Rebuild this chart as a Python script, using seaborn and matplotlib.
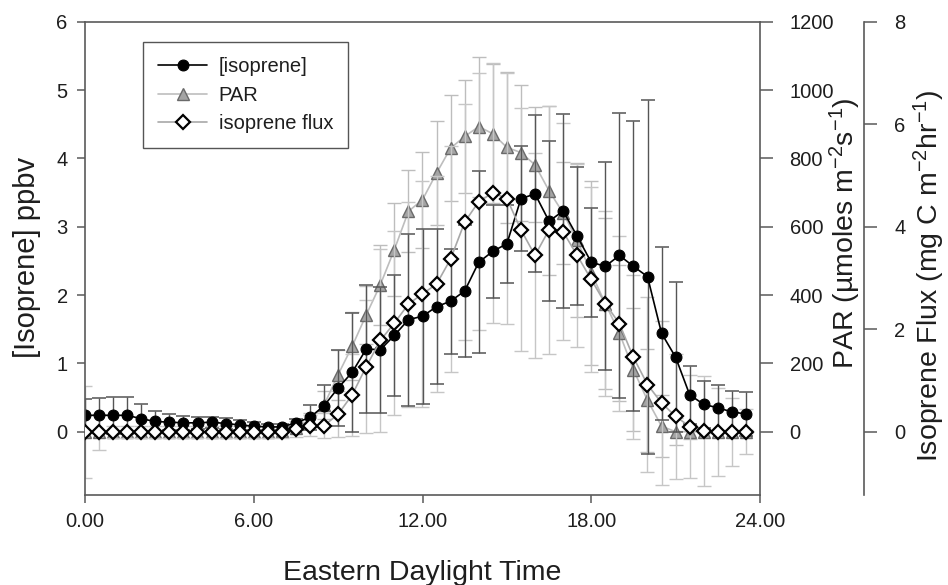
import numpy as np
import pandas as pd
import matplotlib
matplotlib.use("Agg")
import matplotlib.pyplot as plt
import seaborn as sns

# ---------------- data ----------------
time = [0.0, 0.5, 1.0, 1.5, 2.0, 2.5, 3.0, 3.5, 4.0, 4.5, 5.0, 5.5,
        6.0, 6.5, 7.0, 7.5, 8.0, 8.5, 9.0, 9.5, 10.0, 10.5, 11.0, 11.5,
        12.0, 12.5, 13.0, 13.5, 14.0, 14.5, 15.0, 15.5, 16.0, 16.5, 17.0, 17.5,
        18.0, 18.5, 19.0, 19.5, 20.0, 20.5, 21.0, 21.5, 22.0, 22.5, 23.0, 23.5]

isoprene = [0.24, 0.24, 0.24, 0.24, 0.19, 0.15, 0.14, 0.13, 0.13, 0.14, 0.12, 0.10,
            0.08, 0.07, 0.07, 0.13, 0.21, 0.38, 0.64, 0.87, 1.21, 1.20, 1.41, 1.64,
            1.69, 1.83, 1.91, 2.06, 2.48, 2.64, 2.75, 3.41, 3.48, 3.08, 3.23, 2.86,
            2.48, 2.42, 2.58, 2.42, 2.27, 1.44, 1.09, 0.54, 0.40, 0.35, 0.29, 0.26]
isoprene_err = [0.24, 0.25, 0.27, 0.27, 0.21, 0.15, 0.12, 0.10, 0.09, 0.08, 0.08, 0.07,
                0.06, 0.05, 0.05, 0.06, 0.18, 0.30, 0.56, 0.87, 0.93, 0.92, 0.88, 1.26,
                1.28, 1.13, 0.77, 0.97, 1.33, 0.68, 0.57, 0.77, 1.15, 1.17, 1.42, 1.01,
                0.80, 1.52, 2.09, 2.12, 2.59, 1.27, 1.10, 0.42, 0.34, 0.34, 0.30, 0.32]

par = [0, 0, 0, 0, 0, 0, 0, 0, 0, 0, 0, 0,
       0, 0, 3, 12, 35, 78, 167, 250, 342, 430, 533, 645,
       679, 757, 830, 864, 893, 872, 832, 817, 781, 705, 640, 560,
       465, 375, 289, 181, 92, 16, 0, 0, 0, 0, 0, 0]
par_err = [3, 3, 3, 3, 3, 3, 3, 3, 3, 3, 3, 3,
           3, 3, 4, 8, 20, 40, 73, 99, 85, 117, 136, 120,
           140, 151, 156, 166, 205, 204, 220, 199, 168, 247, 150, 225,
           270, 250, 200, 180, 150, 90, 40, 20, 5, 5, 5, 5]

flux = [0, 0, 0, 0, 0, 0, 0, 0, 0, 0, 0, 0,
        0, 0, 0, 0.05, 0.12, 0.12, 0.34, 0.72, 1.27, 1.78, 2.12, 2.49,
        2.69, 2.88, 3.37, 4.09, 4.49, 4.66, 4.55, 3.94, 3.44, 3.94, 3.90, 3.44,
        2.97, 2.50, 2.11, 1.45, 0.92, 0.56, 0.30, 0.10, 0.02, 0, 0, 0]
flux_err = [0.90, 0.35, 0.12, 0.12, 0.12, 0.12, 0.12, 0.12, 0.12, 0.12, 0.12, 0.12,
            0.12, 0.12, 0.12, 0.15, 0.20, 0.25, 0.45, 0.80, 1.30, 1.78, 1.80, 2.00,
            2.20, 2.10, 2.20, 2.30, 2.50, 2.53, 2.45, 2.37, 2.00, 2.42, 2.12, 1.79,
            1.80, 1.80, 1.70, 1.60, 1.70, 1.60, 1.22, 1.00, 1.07, 0.86, 0.66, 0.44]

x_ticks = [0, 6, 12, 18, 24]
x_tick_labels = ["0.00", "6.00", "12.00", "18.00", "24.00"]
iso_ticks = [0, 1, 2, 3, 4, 5, 6]
par_ticks = [0, 200, 400, 600, 800, 1000, 1200]
flux_ticks = [0, 2, 4, 6, 8]
legend_labels = ["[isoprene]", "PAR", "isoprene flux"]

df = pd.DataFrame({"time": time, "isoprene": isoprene, "par": par, "flux": flux})

# ---------------- style ----------------
sns.set_style("ticks")
plt.rcParams["font.family"] = ["Liberation Sans", "DejaVu Sans"]
plt.rcParams["mathtext.fontset"] = "custom"
plt.rcParams["mathtext.rm"] = "Liberation Sans"
plt.rcParams["mathtext.it"] = "Liberation Sans:italic"
plt.rcParams["mathtext.bf"] = "Liberation Sans:bold"

W, H = 948, 585
fig = plt.figure(figsize=(W / 100, H / 100), dpi=100)
L, R, T, B = 85, 760, 21.7, 495
ax = fig.add_axes([L / W, 1 - B / H, (R - L) / W, (B - T) / H])
axp = ax.twinx()     # PAR
axfe = ax.twinx()    # flux error bars (kept below isoprene markers)
axf = ax.twinx()     # flux line and markers

axp.set_zorder(1)
axfe.set_zorder(2)
ax.set_zorder(3)
axf.set_zorder(4)
for a in (ax, axfe, axf):
    a.patch.set_visible(False)

spine_c = "#5a5a5a"
txt_c = "#1e1e1e"

# PAR
axp.errorbar(df["time"], df["par"], yerr=par_err, fmt="none", ecolor="#bdbdbd",
             elinewidth=1.0, capsize=5, capthick=1.0, zorder=1)
sns.lineplot(data=df, x="time", y="par", ax=axp, color="#bdbdbd", linewidth=1.2,
             marker="^", markersize=8.5, markerfacecolor="#a4a4a4",
             markeredgecolor="#6a6a6a", markeredgewidth=1.0, errorbar=None,
             legend=False, zorder=2)
h_par = axp.lines[-1]

# flux error bars
axfe.errorbar(df["time"], df["flux"], yerr=flux_err, fmt="none", ecolor="#c6c6c6",
              elinewidth=1.0, capsize=5, capthick=1.0, zorder=1)

# isoprene
ax.errorbar(df["time"], df["isoprene"], yerr=isoprene_err, fmt="none",
            ecolor="#555555", elinewidth=1.0, capsize=5, capthick=1.1, zorder=1)
sns.lineplot(data=df, x="time", y="isoprene", ax=ax, color="black", linewidth=1.2,
             marker="o", markersize=7.8, markerfacecolor="black",
             markeredgecolor="black", markeredgewidth=0.8, errorbar=None,
             legend=False, zorder=2)
h_iso = ax.lines[-1]

# flux
sns.lineplot(data=df, x="time", y="flux", ax=axf, color="#a8a8a8", linewidth=1.2,
             marker="D", markersize=7.0, markerfacecolor="white",
             markeredgecolor="black", markeredgewidth=1.6, errorbar=None,
             legend=False, zorder=2)
h_flux = axf.lines[-1]

# ---------------- axes ----------------
ax.set_xlim(0, 24)
ax.set_ylim(-0.926, 6)
axp.set_ylim(-185.3, 1200)
axfe.set_ylim(-1.235, 8)
axf.set_ylim(-1.235, 8)

ax.set_xticks(x_ticks)
ax.set_xticklabels(x_tick_labels)
ax.set_yticks(iso_ticks)
ax.set_xlabel("")
ax.set_ylabel("")
axp.set_yticks(par_ticks)
axp.set_ylabel("")
axf.set_yticks(flux_ticks)
axf.set_ylabel("")
axfe.set_yticks([])
axfe.set_ylabel("")

for s in ax.spines.values():
    s.set_color(spine_c)
    s.set_linewidth(1.2)
ax.spines["right"].set_visible(False)

for a in (axp, axfe, axf):
    for side in ("top", "left", "bottom"):
        a.spines[side].set_visible(False)
axfe.spines["right"].set_visible(False)
axp.spines["right"].set_color(spine_c)
axp.spines["right"].set_linewidth(1.2)
axf.spines["right"].set_position(("axes", (864 - L) / (R - L)))
axf.spines["right"].set_color(spine_c)
axf.spines["right"].set_linewidth(1.2)

ax.tick_params(axis="both", direction="out", length=5.5, width=1.1, color=spine_c,
               labelcolor=txt_c, labelsize=14.5, pad=7)
ax.tick_params(axis="y", right=False)
ax.tick_params(axis="x", top=False)
axp.tick_params(axis="y", direction="out", length=9.3, width=1.1, color=spine_c,
                labelcolor=txt_c, labelsize=14.5, pad=12)
axf.tick_params(axis="y", direction="out", length=9.3, width=1.1, color=spine_c,
                labelcolor=txt_c, labelsize=14.5, pad=12.5)
axfe.tick_params(axis="y", length=0, labelright=False)

# ---------------- labels ----------------
fig.text(422.5 / W, 1 - 579.5 / H, "Eastern Daylight Time", ha="center",
         va="baseline", fontsize=20.5, color=txt_c)
fig.text(35.5 / W, 1 - 257.5 / H, "[Isoprene] ppbv", rotation=90,
         rotation_mode="anchor", ha="center", va="baseline", fontsize=21, color=txt_c)
fig.text(854 / W, 1 - 233.5 / H, "PAR (µmoles m$^{-2}$s$^{-1}$)", rotation=90,
         rotation_mode="anchor", ha="center", va="baseline", fontsize=20.5, color=txt_c)
fig.text(938 / W, 1 - 275.5 / H, "Isoprene Flux (mg C m$^{-2}$hr$^{-1}$)", rotation=90,
         rotation_mode="anchor", ha="center", va="baseline", fontsize=20.5, color=txt_c)

# ---------------- legend ----------------
leg = axf.legend([h_iso, h_par, h_flux], legend_labels, loc="upper left",
                 bbox_to_anchor=(143 / W, 1 - 42.3 / H), bbox_transform=fig.transFigure,
                 borderaxespad=0, frameon=True, fancybox=False, framealpha=1,
                 edgecolor="#555555", fontsize=14.5, handlelength=2.45,
                 handletextpad=0.55, labelspacing=0.47, borderpad=0.75, numpoints=1)
leg.get_frame().set_linewidth(1.0)
for t in leg.get_texts():
    t.set_color(txt_c)

fig.savefig("out.png", dpi=100)
